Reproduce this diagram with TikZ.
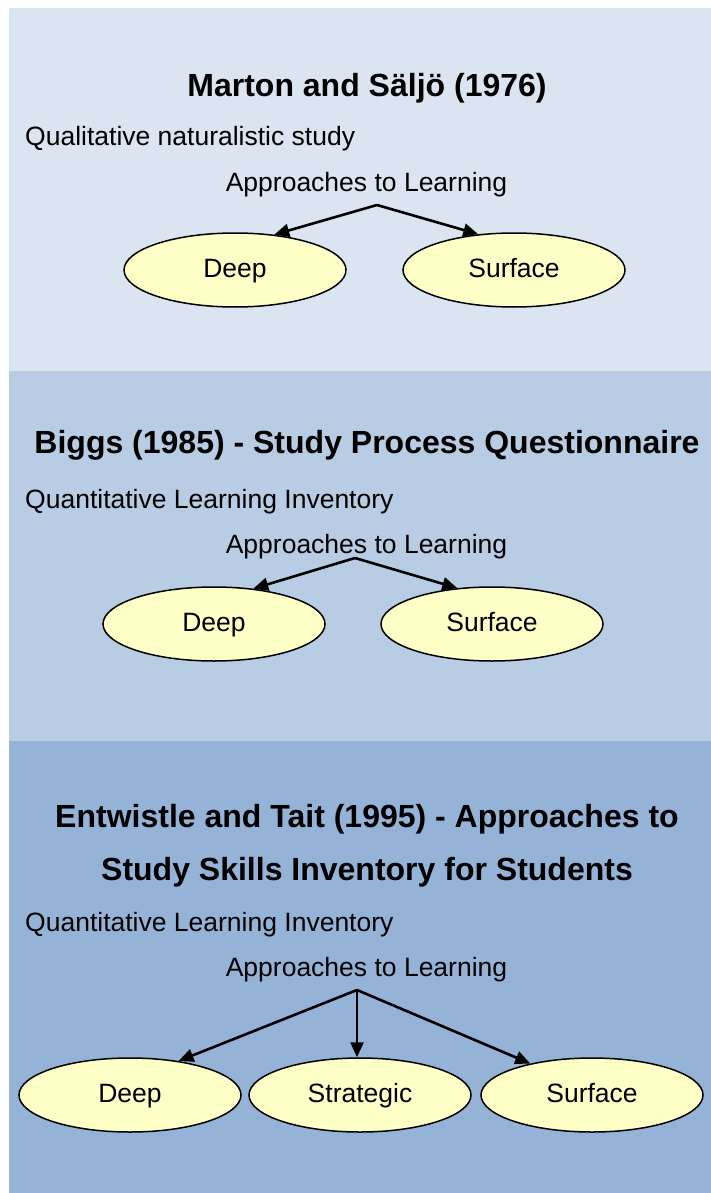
\documentclass[tikz,border=0pt]{standalone}
\usepackage{fontspec}
\setmainfont{Liberation Sans}
\usetikzlibrary{shapes.geometric,arrows.meta}
\definecolor{pone}{HTML}{DBE5F1}
\definecolor{ptwo}{HTML}{B8CCE4}
\definecolor{pthree}{HTML}{95B3D7}
\definecolor{ellfill}{HTML}{FFFFC8}
\newcommand\bodyfnt{\fontsize{26.5}{30}\selectfont}
\newcommand\titlefnt{\fontsize{32}{36}\selectfont\bfseries}
\begin{document}
\begin{tikzpicture}[x=1pt,y=-1pt,
  titletext/.style={anchor=base,inner sep=0pt,font=\titlefnt},
  lefttext/.style={anchor=base west,inner sep=0pt,font=\bodyfnt},
  toptext/.style={anchor=base,inner sep=0pt,font=\bodyfnt},
  oval/.style={ellipse,draw=black,line width=1.5pt,fill=ellfill,minimum width=222pt,minimum height=74pt,inner sep=0pt,text height=20pt,text depth=6pt,font=\bodyfnt},
  arr/.style={line width=2.6pt,-{Triangle[length=15pt,width=13pt]}}]
\useasboundingbox (0,0) rectangle (711,1193);
\fill[white] (0,0) rectangle (711,1193);
\fill[pone] (9,8) rectangle (711,370.5);
\fill[ptwo] (9,370.5) rectangle (711,740.5);
\fill[pthree] (9,740.5) rectangle (711,1193);
% panel 1
\node[titletext] (t1) at (367,97) {Marton and Säljö (1976)};
\node[lefttext] (q1) at (25,146) {Qualitative naturalistic study};
\node[toptext] (ap1) at (366.5,192) {Approaches to Learning};
\coordinate (a1) at (377,205);
\node[oval] (d1) at (235,270) {Deep};
\node[oval] (s1) at (514,270) {Surface};
\draw[arr] (a1) -- (d1.42);
\draw[arr] (a1) -- (s1.135);
% panel 2
\node[titletext] (t2) at (367,453) {Biggs (1985) - Study Process Questionnaire};
\node[lefttext] (q2) at (25,508) {Quantitative Learning Inventory};
\node[toptext] (ap2) at (366.5,553) {Approaches to Learning};
\coordinate (a2) at (355,558);
\node[oval] (d2) at (214,624) {Deep};
\node[oval] (s2) at (492,624) {Surface};
\draw[arr] (a2) -- (d2.42);
\draw[arr] (a2) -- (s2.134);
% panel 3
\node[titletext] (t3a) at (367,827) {Entwistle and Tait (1995) - Approaches to};
\node[titletext] (t3b) at (367,880) {Study Skills Inventory for Students};
\node[lefttext] (q3) at (25,931) {Quantitative Learning Inventory};
\node[toptext] (ap3) at (366.5,976) {Approaches to Learning};
\coordinate (a3) at (357,990);
\node[oval] (d3) at (130,1095) {Deep};
\node[oval] (m3) at (360,1095) {Strategic};
\node[oval] (s3) at (592,1095) {Surface};
\draw[arr] (a3) -- (d3.35);
\draw[arr] (a3) -- (a3 |- m3.north);
\draw[arr] (a3) -- (s3.153);
\end{tikzpicture}
\end{document}
